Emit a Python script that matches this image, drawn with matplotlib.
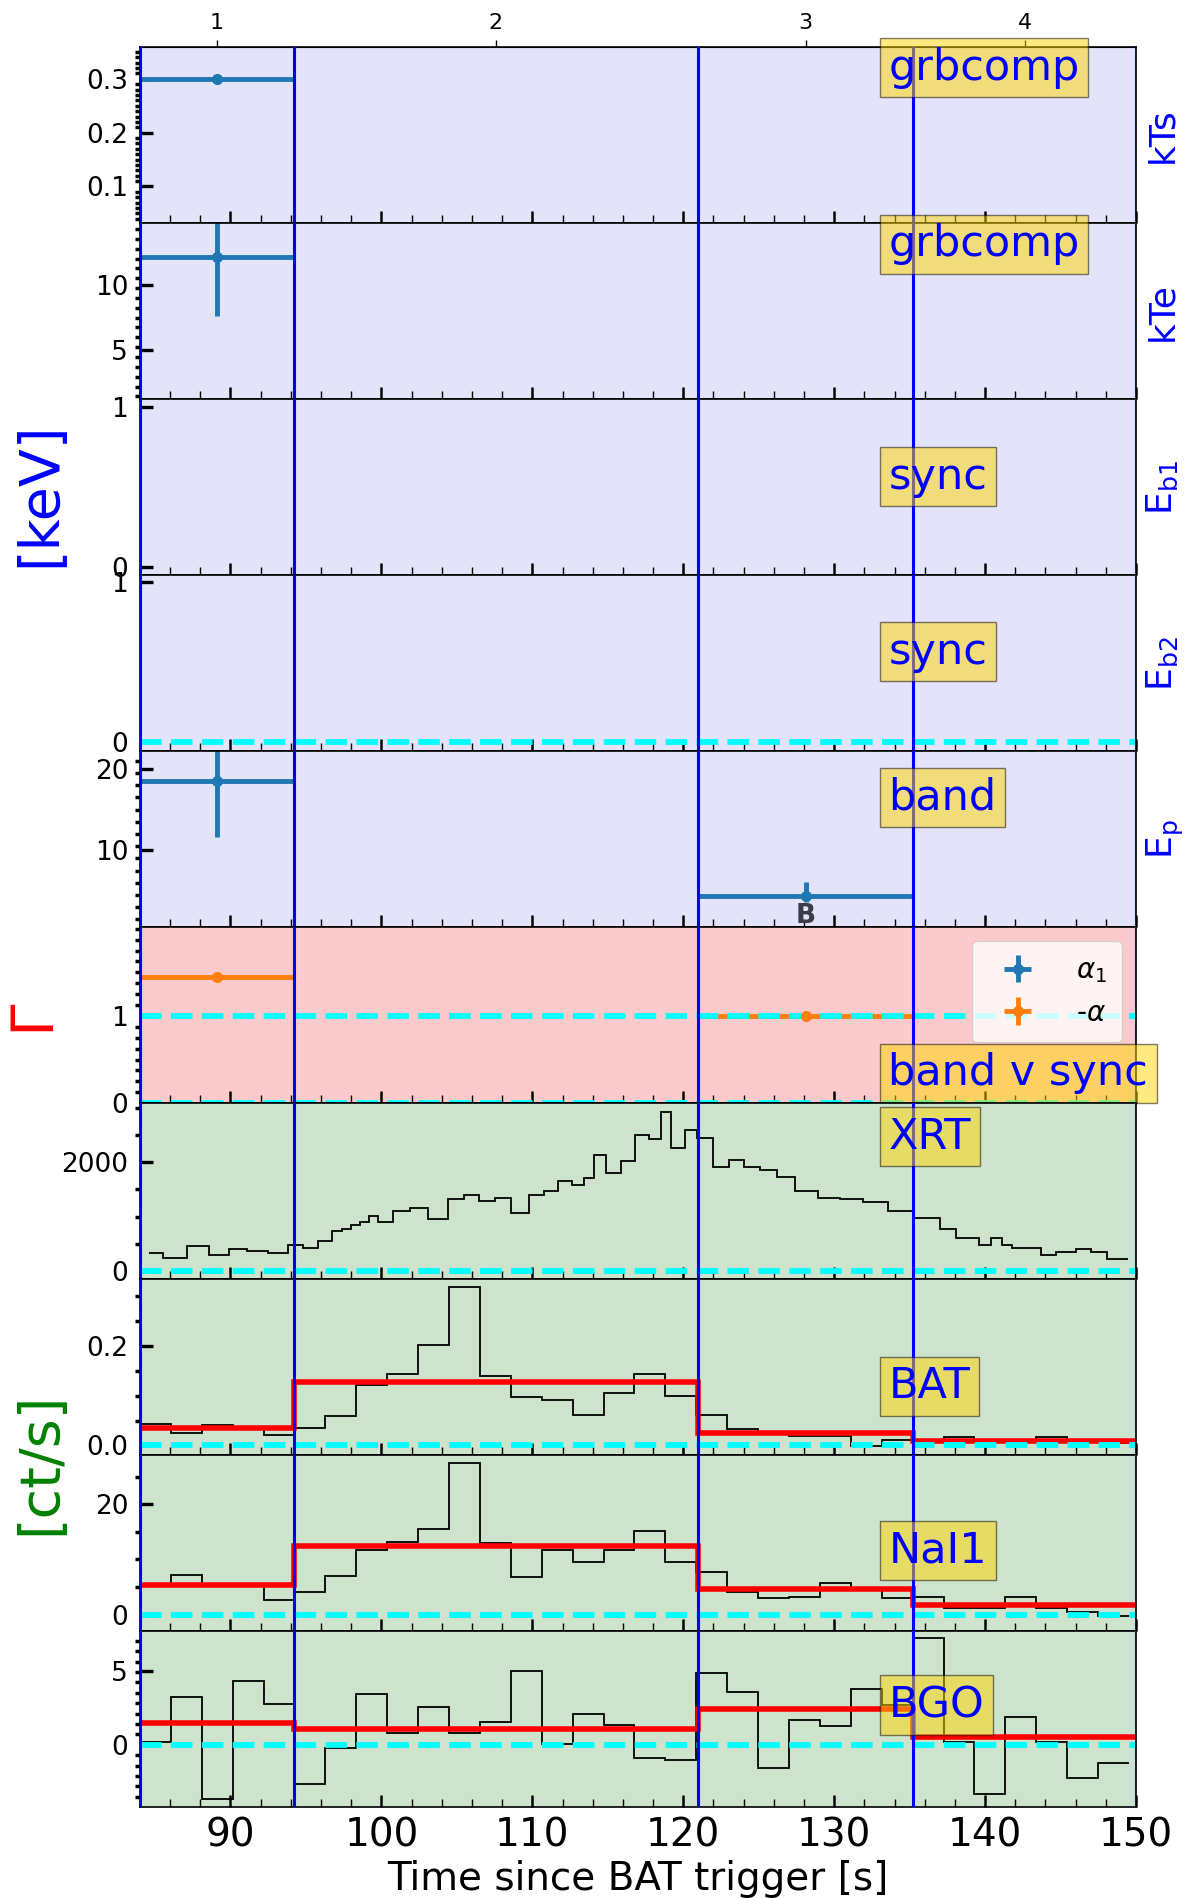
import numpy as np
import matplotlib
matplotlib.use("Agg")
import matplotlib.pyplot as plt
from matplotlib.ticker import FixedLocator, MultipleLocator, NullLocator
from matplotlib.transforms import blended_transform_factory

# time intervals used for the spectral fits
t_edges = [84.0, 94.2, 120.96, 135.25, 150.0]
interval_names = ["1", "2", "3", "4"]

# fitted parameters: interval index, value, lower / upper error
kts_idx = [0]
kts_val = [0.30]
kts_lo = [0.002]
kts_hi = [0.002]

kte_idx = [0]
kte_val = [12.15]
kte_lo = [4.5]
kte_hi = [3.0]

ep_idx = [0, 2]
ep_val = [18.55, 4.42]
ep_lo = [6.95, 0.77]
ep_hi = [5.0, 1.66]
ep_flag = ["", "B"]

alpha_idx = [0, 2]
alpha_val = [1.445, 1.0]
alpha_err = [0.03, 0.03]

# XRT light curve (variable bins)
xrt_edges = [84.6, 85.55, 87.1, 88.55, 89.9, 91.1, 92.5, 93.8, 94.8, 95.8,
             96.7, 97.4, 98.0, 98.6, 99.2, 99.8, 100.8, 101.9, 103.1, 104.4,
             105.5, 106.5, 107.5, 108.6, 109.8, 110.8, 111.7, 112.6, 113.4, 114.1,
             114.9, 115.9, 116.8, 117.7, 118.5, 119.2, 120.1, 120.9, 122.0, 123.0,
             124.0, 125.1, 126.2, 127.4, 128.9, 130.4, 131.9, 133.6, 135.3, 137.0,
             138.1, 139.6, 140.4, 141.1, 141.8, 143.7, 144.7, 146.0, 147.0, 148.1,
             149.5]
xrt_rate = [325, 233, 448, 294, 399, 356, 325, 478, 429, 558,
            742, 767, 846, 908, 1012, 895, 1104, 1165, 951, 1319,
            1398, 1288, 1349, 1061, 1398, 1478, 1656, 1582, 1717, 2134,
            1809, 2024, 2502, 2429, 2925, 2257, 2594, 2441, 1920, 2042,
            1920, 1858, 1736, 1478, 1349, 1319, 1270, 1110, 981, 767,
            613, 478, 613, 478, 429, 294, 337, 405, 337, 215]

# BAT / GBM light curves, 2.048 s bins from 84 s
bin_t0 = 84.0
bin_dt = 2.048
bat_rate = [0.043, 0.026, 0.042, 0.035, 0.0215, 0.036, 0.060, 0.121, 0.143, 0.203,
            0.320, 0.139, 0.098, 0.091, 0.062, 0.106, 0.143, 0.099, 0.062, 0.034,
            0.027, 0.020, 0.020, -0.002, 0.011, 0.007, 0.017, 0.008, 0.006, 0.017,
            0.008, 0.005]
nai_rate = [5.36, 7.17, 5.4, 5.3, 2.71, 4.04, 7.05, 11.75, 13.2, 15.5,
            27.5, 12.9, 6.87, 11.75, 9.46, 11.75, 15.06, 9.46, 7.65, 4.04,
            2.95, 3.1, 5.72, 4.6, 2.95, 3.13, 1.14, 1.14, 3.25, 1.14,
            0.42, -0.18]
bgo_rate = [0.16, 3.24, -3.63, 4.28, 2.73, -2.66, -0.18, 3.42, 0.79, 2.57,
            0.79, 1.55, 4.98, 0.05, 2.07, 1.33, -0.86, -1.04, 4.84, 3.58,
            -1.53, 1.67, 1.28, 3.76, 2.68, 7.18, 0.22, -3.33, 1.89, 0.16,
            -2.2, -1.24]

# model count rates per interval
bat_model = [0.035, 0.127, 0.026, 0.0094]
nai_model = [5.42, 12.35, 4.64, 1.75]
bgo_model = [1.44, 1.06, 2.41, 0.5]

model_names = ["grbcomp", "grbcomp", "sync", "sync", "band",
               "band v sync", "XRT", "BAT", "NaI1", "BGO"]
param_names = ["kTs", "kTe", r"E$_{\rm b1}$", r"E$_{\rm b2}$", r"E$_{\rm p}$"]

bin_edges = bin_t0 + bin_dt * np.arange(len(bat_rate) + 1)
t_mid = [(a + b) / 2 for a, b in zip(t_edges[:-1], t_edges[1:])]
t_half = [(b - a) / 2 for a, b in zip(t_edges[:-1], t_edges[1:])]

fig, axes = plt.subplots(10, 1, figsize=(11.9, 18.98), dpi=100, sharex=True,
                         gridspec_kw={"hspace": 0})
fig.subplots_adjust(left=0.1176, right=0.9546, top=0.9752, bottom=0.0479)

bg = ["#e3e3fa"] * 5 + ["#fccaca"] + ["#cde3cc"] * 4
ylims = [(0.032, 0.359), (1.3, 14.7), (-0.05, 1.05), (-0.055, 1.045), (0.55, 22.2),
         (0.0, 2.02), (-153, 3091), (-0.0194, 0.335), (-3.0, 28.9), (-4.19, 7.66)]
yticks = [[0.1, 0.2, 0.3], [5, 10], [0, 1], [0, 1], [10, 20],
          [0, 1], [0, 2000], [0.0, 0.2], [0, 20], [0, 5]]
yminor = [0.01, 0.75, None, None, 1.5, 0.125, 500, 0.05, 5, 0.7]
box_y = [0.883, 0.88, 0.56, 0.565, 0.737, 0.17, 0.81, 0.39, 0.46, 0.58]

box_style = dict(boxstyle="square,pad=0.2", facecolor="gold", edgecolor="black", alpha=0.5)
zero_kw = dict(color="cyan", ls="--", lw=4.2)

for i, ax in enumerate(axes):
    ax.set_facecolor(bg[i])
    ax.set_xlim(t_edges[0], t_edges[-1])
    ax.set_ylim(*ylims[i])
    ax.yaxis.set_major_locator(FixedLocator(yticks[i]))
    if yminor[i] is None:
        ax.yaxis.set_minor_locator(NullLocator())
    else:
        ax.yaxis.set_minor_locator(MultipleLocator(yminor[i]))
    for s in ax.spines.values():
        s.set_linewidth(1.2)

    ax.tick_params(axis="x", which="major", direction="in", length=9, width=1.8,
                   top=False, labelsize=28, pad=7)
    ax.tick_params(axis="x", which="minor", direction="in", length=6, width=1.0, top=False)
    ax.tick_params(axis="y", which="major", direction="in", length=9, width=2.4,
                   right=False, labelsize=19, pad=8.5)
    ax.tick_params(axis="y", which="minor", direction="out", length=3.5, width=2.5,
                   right=False)

    trans = blended_transform_factory(ax.transData, ax.transAxes)
    ax.text(133.6, box_y[i], model_names[i], transform=trans, fontsize=31,
            color="blue", ha="left", va="center", bbox=box_style, zorder=5)

    if i < 5:
        ax.text(1.009, 0.5, param_names[i], transform=ax.transAxes, fontsize=26,
                color="blue", rotation=90, ha="left", va="center")

axes[-1].xaxis.set_major_locator(MultipleLocator(10))
axes[-1].xaxis.set_minor_locator(MultipleLocator(2))

err_kw = dict(fmt="o", color="tab:blue", markersize=7, elinewidth=3.5, capsize=0)

# kTs
axes[0].errorbar([t_mid[k] for k in kts_idx], kts_val,
                 xerr=[t_half[k] for k in kts_idx], yerr=[kts_lo, kts_hi], **err_kw)
# kTe
axes[1].errorbar([t_mid[k] for k in kte_idx], kte_val,
                 xerr=[t_half[k] for k in kte_idx], yerr=[kte_lo, kte_hi], **err_kw)
# Eb2 reference line
axes[3].axhline(0, **zero_kw)
# Ep
axes[4].errorbar([t_mid[k] for k in ep_idx], ep_val,
                 xerr=[t_half[k] for k in ep_idx], yerr=[ep_lo, ep_hi], **err_kw)
for k, v, lo, flag in zip(ep_idx, ep_val, ep_lo, ep_flag):
    if flag:
        axes[4].annotate(flag, (t_mid[k], v - lo), xytext=(0, -1), textcoords="offset points",
                         ha="center", va="top", fontsize=19, fontweight="bold",
                         color="#3c3c4c", annotation_clip=False)

# photon indices
ax6 = axes[5]
ax6.errorbar([np.nan], [np.nan], xerr=[np.nan], yerr=[np.nan], fmt="o", color="tab:blue",
             markersize=7, elinewidth=3.5, label=r"$\alpha_1$")
ax6.errorbar([t_mid[k] for k in alpha_idx], alpha_val,
             xerr=[t_half[k] for k in alpha_idx], yerr=alpha_err, fmt="o",
             color="tab:orange", markersize=7, elinewidth=3.5, label=r"-$\alpha$")
ax6.axhline(1, **zero_kw)
ax6.axhline(0, **zero_kw)
ax6.legend(loc="upper right", fontsize=20, borderaxespad=0.5, handlelength=2.2,
           handletextpad=1.0, labelspacing=0.5, borderpad=0.55)

# light curves
axes[6].stairs(xrt_rate, xrt_edges, baseline=None, color="black", lw=1.3)
for ax, rate, model in zip(axes[7:], [bat_rate, nai_rate, bgo_rate],
                           [bat_model, nai_model, bgo_model]):
    ax.stairs(rate, bin_edges, baseline=None, color="black", lw=1.3)
    ax.stairs(model, t_edges, baseline=None, color="red", lw=4)
for ax in axes[6:]:
    ax.axhline(0, **zero_kw)

# interval boundaries
for ax in axes:
    for t in t_edges:
        ax.axvline(t, color="blue", lw=2.2, zorder=4)

# interval numbers on top
top = axes[0].secondary_xaxis("top")
top.set_xticks(t_mid, interval_names)
top.xaxis.set_minor_locator(NullLocator())
top.tick_params(direction="out", length=5, width=1, labelsize=16, pad=5)

axes[-1].set_xlabel("Time since BAT trigger [s]", fontsize=28)

fig.text(0.0336, 0.7397, "[keV]", color="blue", fontsize=40, rotation=90,
         ha="center", va="center")
fig.text(0.0269, 0.4652, "Γ", color="red", fontsize=42, rotation=90,
         ha="center", va="center")
fig.text(0.0336, 0.2292, "[ct/s]", color="green", fontsize=40, rotation=90,
         ha="center", va="center")

fig.savefig("out.png", dpi=100)
